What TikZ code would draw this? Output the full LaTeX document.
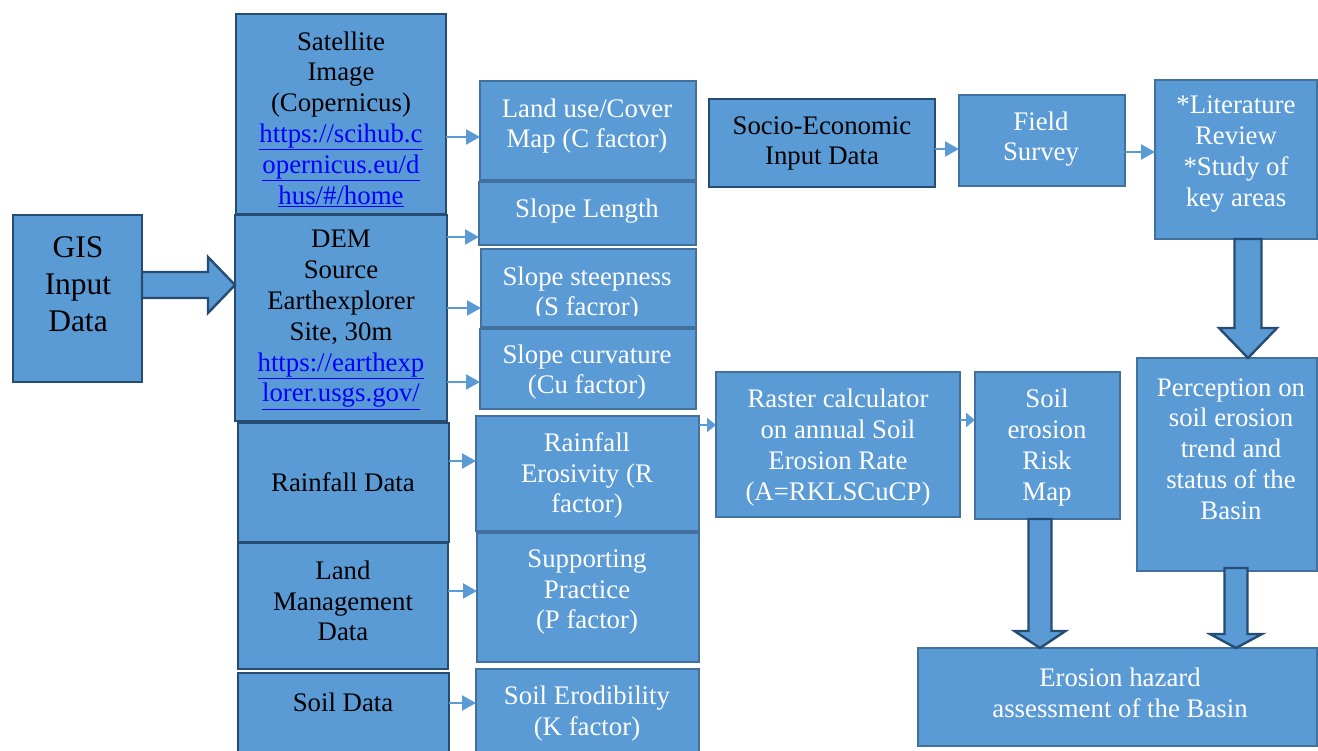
\documentclass[tikz,border=0pt]{standalone}
\usepackage{fontspec}
\setmainfont{Liberation Serif}
\usetikzlibrary{arrows.meta,calc}

\definecolor{boxfill}{HTML}{5B9BD5}
\definecolor{edgedark}{RGB}{38,76,116}
\definecolor{edgemid}{HTML}{41719C}
\definecolor{linkblue}{HTML}{0000FF}

\tikzset{
  base/.style={rectangle, fill=boxfill, inner sep=0pt, outer sep=0pt, anchor=north west},
  srcbox/.style={base, draw=edgedark, line width=2.6pt},
  facbox/.style={base, draw=edgemid, line width=2.4pt},
  txt/.style={align=center, inner sep=0pt, font=\fontsize{26.8}{30.8}\selectfont},
  dtxt/.style={txt, text=black},
  wtxt/.style={txt, text=white},
  feed/.style={draw=boxfill, line width=2.2pt, -{Triangle[length=14pt,width=15pt]}},
  feedshort/.style={draw=boxfill, line width=2.2pt, -{Triangle[length=9pt,width=14pt]}},
  block/.style={fill=boxfill, draw=edgedark, line width=2.4pt, line join=miter},
}

% box from its top-left corner (x1,y1) to bottom-right corner (x2,y2)
\newcommand\mkbox[6]{\node[#1, minimum width={#4-#2}, minimum height={#5-#3}] (#6) at (#2,#3) {};}
% wide arrow pointing right: tail, tip, shaft half-width, head half-width, head length
\newcommand\blockright[5]{%
  \draw[block] ($(#1)+(0,-#3)$) -- ($(#2)+(-#5,-#3)$) -- ($(#2)+(-#5,-#4)$) -- (#2)
    -- ($(#2)+(-#5,#4)$) -- ($(#2)+(-#5,#3)$) -- ($(#1)+(0,#3)$) -- cycle;}
% wide arrow pointing down: tail, tip, shaft half-width, head half-width, head length
\newcommand\blockdown[5]{%
  \draw[block] ($(#1)+(-#3,0)$) -- ($(#2)+(-#3,-#5)$) -- ($(#2)+(-#4,-#5)$) -- (#2)
    -- ($(#2)+(#4,-#5)$) -- ($(#2)+(#3,-#5)$) -- ($(#1)+(#3,0)$) -- cycle;}
\newcommand\lnk[1]{\textcolor{linkblue}{\underline{#1}}}

\begin{document}
\begin{tikzpicture}[x=1pt,y=-1pt]
\useasboundingbox (0,0) rectangle (1318,751);
\clip (0,0) rectangle (1318,751);

% data sources
\mkbox{srcbox}{13}{215}{142}{382}{gis}
\mkbox{srcbox}{236}{14}{446}{214}{sat}
\mkbox{srcbox}{235}{215}{447}{421}{dem}
\mkbox{srcbox}{238}{423}{449}{542}{rain}
\mkbox{srcbox}{238}{543}{448}{669}{mgmt}
\mkbox{srcbox}{238}{673}{449}{770}{soil}

% RUSLE factors
\mkbox{facbox}{480}{81}{696}{180}{land}
\mkbox{facbox}{479}{182}{696}{245}{slen}
\mkbox{facbox}{481}{249}{696}{327}{steep}
\begin{scope}
  \clip (470,240) rectangle (710,316);
  \node[wtxt] (steep-t) at (587,294) {Slope steepness\\(S facror)};
\end{scope}
\mkbox{facbox}{480}{329}{696}{409}{curv}
\mkbox{facbox}{476}{416}{699}{531}{rfac}
\mkbox{facbox}{477}{533}{699}{662}{pfac}
\mkbox{facbox}{476}{669}{699}{770}{kfac}

% socio-economic branch and outputs
\mkbox{srcbox}{709}{99}{935}{187}{socio}
\mkbox{facbox}{959}{95}{1125}{186}{field}
\mkbox{facbox}{1155}{80}{1317}{239}{lit}
\mkbox{facbox}{716}{372}{960}{517}{raster}
\mkbox{facbox}{975}{372}{1120}{519}{risk}
\mkbox{facbox}{1137}{358}{1317}{571}{perc}
\mkbox{facbox}{918}{648}{1317}{746}{haz}

% texts
\node[dtxt, font=\fontsize{31.5}{37}\selectfont] (gis-t) at (78,284) {GIS\\Input\\Data};
\node[dtxt] (sat-t) at (341,119) {Satellite\\Image\\(Copernicus)\\\lnk{https://scihub.c}\\\lnk{opernicus.eu/d}\\\lnk{hus/\#/home}};
\node[dtxt] (dem-t) at (341,320) {DEM\\Source\\Earthexplorer\\Site, 30m\\\lnk{https://earthexp}\\\lnk{lorer.usgs.gov/}};
\node[dtxt] (rain-t) at (343,482) {Rainfall Data};
\node[dtxt] (mgmt-t) at (343,601) {Land\\Management\\Data};
\node[dtxt] (soil-t) at (343,702) {Soil Data};

\node[wtxt] (land-t) at (587,126) {Land use/Cover\\Map (C factor)};
\node[wtxt] (slen-t) at (587,211) {Slope Length};
\node[wtxt] (curv-t) at (587,372) {Slope curvature\\(Cu factor)};
\node[wtxt] (rfac-t) at (587,475.5) {Rainfall\\Erosivity (R\\factor)};
\node[wtxt] (pfac-t) at (587,592) {Supporting\\Practice\\(P factor)};
\node[wtxt] (kfac-t) at (587,713.5) {Soil Erodibility\\(K factor)};

\node[dtxt] (socio-t) at (822,143.5) {Socio-Economic\\Input Data};
\node[wtxt] (field-t) at (1041,139) {Field\\Survey};
\node[wtxt] (lit-t) at (1236,154) {*Literature\\Review\\*Study of\\key areas};
\node[wtxt] (raster-t) at (838,447.5) {Raster calculator\\on annual Soil\\Erosion Rate\\(A=RKLSCuCP)};
\node[wtxt] (risk-t) at (1047,447.5) {Soil\\erosion\\Risk\\Map};
\node[wtxt] (perc-t) at (1231,449) {Perception on\\soil erosion\\trend and\\status of the\\Basin};
\node[wtxt] (haz-t) at (1120,692.5) {Erosion hazard\\assessment of the Basin};

% thin connectors
\draw[feed] (sat.east |- 0,137) -- (land.west |- 0,137);
\draw[feed] (dem.east |- 0,237) -- (slen.west |- 0,237);
\draw[feed] (dem.east |- 0,308) -- (steep.west |- 0,308);
\draw[feed] (dem.east |- 0,382) -- (curv.west |- 0,382);
\draw[feed] (rain.east |- 0,461) -- (rfac.west |- 0,461);
\draw[feed] (mgmt.east |- 0,591) -- (pfac.west |- 0,591);
\draw[feed] (soil.east |- 0,703) -- (kfac.west |- 0,703);
\draw[feedshort] (rfac.east |- 0,425) -- (raster.west |- 0,425);
\draw[feedshort] (raster.east |- 0,420) -- (risk.west |- 0,420);
\draw[feed] (socio.east |- 0,149) -- (field.west |- 0,149);
\draw[feed] (field.east |- 0,152) -- (lit.west |- 0,152);

% wide arrows
\coordinate (ga) at (gis.east |- 0,285);
\coordinate (gb) at (dem.west |- 0,285);
\blockright{ga}{gb}{13}{28}{27}
\coordinate (la) at (lit.south -| 1248,0);
\coordinate (lb) at (perc.north -| 1248,0);
\blockdown{la}{lb}{13.5}{29}{30}
\coordinate (ra) at (risk.south -| 1040,0);
\coordinate (rb) at (haz.north -| 1040,0);
\blockdown{ra}{rb}{11.5}{25.5}{17}
\coordinate (pa) at ($(perc.south -| 1236,0)+(0,-3)$);
\coordinate (pb) at (haz.north -| 1236,0);
\blockdown{pa}{pb}{11.5}{26}{14}
\end{tikzpicture}
\end{document}
